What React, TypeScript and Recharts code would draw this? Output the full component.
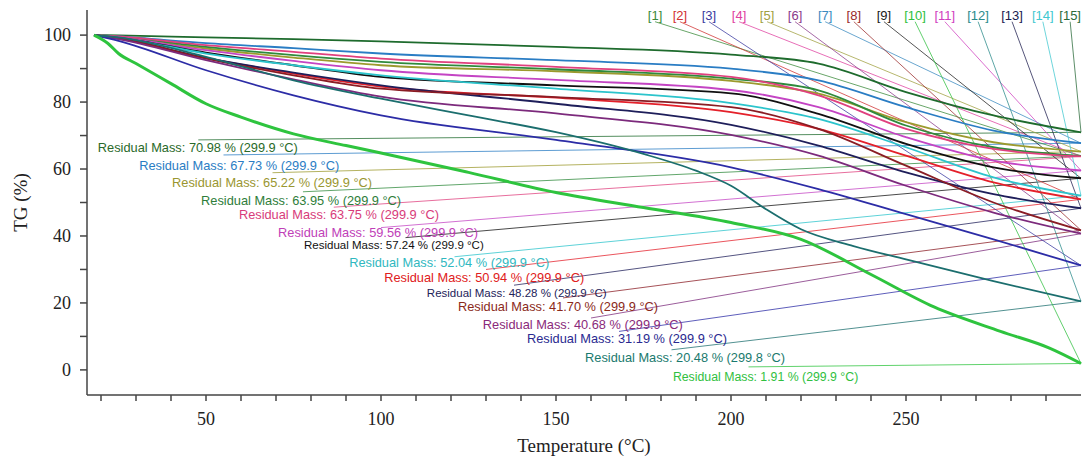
import React from "react";
import {
  LineChart,
  Line,
  XAxis,
  YAxis,
  ReferenceLine,
  ReferenceDot,
} from "recharts";

// temperature grid shared by most TG curves (°C)
const temps = [18, 25, 50, 75, 100, 150, 200, 225, 250, 275, 300];

// TG (%) of each sample, ordered by residual mass
const tgA = [100, 99.9, 99.3, 98.8, 98.1, 96.5, 94.2, 91.5, 83, 76, 70.98];
const tgB = [100, 99.6, 97.6, 96.1, 94.5, 92.5, 90, 86.5, 78.5, 71.5, 67.73];
const tgC = [100, 99.4, 96, 93.3, 91, 89.2, 86.3, 82.5, 74, 68, 65.22];
const tgD = [100, 99.5, 96.5, 94, 92, 89.8, 87, 83.5, 73, 66.5, 63.95];
const tgE = [100, 99.6, 97, 95, 93, 90.5, 87.5, 82, 72, 66, 63.75];
const tgF = [100, 99.3, 95.5, 92.3, 89.5, 86.6, 83.6, 78.5, 69.5, 62.5, 59.56];
const tgG = [100, 99.2, 94.8, 91, 87.5, 85, 82.6, 76.5, 67.5, 60.5, 57.24];
const tgH = [100, 99.2, 94.5, 91, 88, 84, 79.7, 75, 66.5, 57.5, 52.04];
const tgI = [100, 99, 93.2, 88.5, 84.6, 81.3, 77, 72, 64, 56, 50.94];
const tgJ = [100, 99, 93.2, 88.8, 85, 79.5, 73.2, 67, 59, 52.5, 48.28];
const tgK = [100, 99, 93, 88, 84, 81.5, 78.5, 72, 61, 50, 41.7];
const tgL = [100, 98.8, 92.5, 86.8, 81.6, 76.6, 70.2, 64, 55, 47, 40.68];
const tgM = [100, 98.3, 89.5, 82, 76, 68.7, 60.5, 54, 46.5, 39, 31.19];

// teal curve has a sharper step, so it gets its own grid
const tempsN = [18, 25, 50, 75, 100, 125, 150, 175, 190, 200, 210, 220, 235, 250, 275, 300];
const tgN = [100, 99.3, 93.5, 86.5, 81, 76, 71, 64.5, 59.5, 55, 48, 42, 37, 33, 26.5, 20.48];

// fast-decomposing sample
const tempsO = [18, 22, 25, 30, 40, 50, 60, 75, 90, 100, 125, 150, 175, 200, 220, 240, 258, 277, 291, 300];
const tgO = [100, 97.5, 94.5, 91.5, 85.5, 79.5, 75.5, 70.5, 67, 64.8, 59, 53, 48.5, 44, 39, 28.5, 18.8, 11.5, 6.5, 1.91];

const residualMass = [70.98, 67.73, 65.22, 63.95, 63.75, 59.56, 57.24, 52.04, 50.94, 48.28, 41.7, 40.68, 31.19, 20.48, 1.91];
const residualTemp = ["299.9", "299.9", "299.9", "299.9", "299.9", "299.9", "299.9", "299.9", "299.9", "299.9", "299.9", "299.9", "299.9", "299.8", "299.9"];

// sample number [n] -> curve index
const legendCurve = [3, 8, 12, 4, 2, 11, 1, 10, 6, 14, 5, 13, 9, 7, 0];

const xTicks = [20, 30, 40, 50, 60, 70, 80, 90, 100, 110, 120, 130, 140, 150, 160, 170, 180, 190, 200, 210, 220, 230, 240, 250, 260, 270, 280, 290];
const yTicks = [0, 10, 20, 30, 40, 50, 60, 70, 80, 90, 100];

// ---- styling / layout ----
const colors = [
  "#1e6b2d", "#2a7dc4", "#9c9a2e", "#2f8a3c", "#e0407e", "#c444c4", "#111111",
  "#2cc4cc", "#e4202a", "#1e1e5a", "#8a1c24", "#7c2a7c", "#2c2ca6", "#1b6e6e", "#2ec43e",
];
const labelColors = [
  "#2a6a2a", "#2a7dc4", "#9a9630", "#2e7d3a", "#d83c7a", "#c040b8", "#111111",
  "#30b8c0", "#e02020", "#23235a", "#8b2a1a", "#8a2a7a", "#2a2a90", "#1a7a6e", "#30c040",
];
const legendColors = [
  "#3a8a3a", "#d03030", "#3a3aa0", "#e040a0", "#a0a040", "#8a3a8a", "#3a8ac0",
  "#9a2a2a", "#202020", "#30c040", "#d040c0", "#2a8a8a", "#202050", "#40c8d0", "#2a6a3a",
];
const legendT = [178.3, 185.4, 193.7, 202.3, 210.3, 218.3, 226.9, 235.1, 243.7, 252.6, 261.1, 270.6, 280.3, 289.1, 296.9];

// label anchor (left edge T, centre TG) and leader-line start, in data units
const labelPos = [
  [19.1, 66.3], [30.9, 61.2], [40.3, 56.1], [48.6, 50.7], [59.4, 46.3], [70.6, 40.9], [78, 37.3],
  [90.9, 32.2], [100.9, 27.5], [113.1, 23], [122, 18.8], [129.1, 13.7], [141.7, 9.3], [158.3, 3.6], [183.4, -2.1],
];
const leaderStart = [
  [47.8, 68.7], [55, 64.2], [69, 58.9], [77.7, 53.2], [86.5, 48.6], [100, 42.5], [107, 39.5],
  [121, 33.8], [130, 30], [138, 25.3], [152, 21.5], [160, 15.5], [168, 11.5], [183, 6], [205, 0.9],
];
const labelSize = [12.8, 12.8, 12.8, 12.8, 12.8, 12.8, 11.5, 12.8, 12.8, 11.5, 12.8, 12.8, 12.8, 12.8, 12.3];

const series = [
  { t: temps, v: tgA }, { t: temps, v: tgB }, { t: temps, v: tgC }, { t: temps, v: tgD },
  { t: temps, v: tgE }, { t: temps, v: tgF }, { t: temps, v: tgG }, { t: temps, v: tgH },
  { t: temps, v: tgI }, { t: temps, v: tgJ }, { t: temps, v: tgK }, { t: temps, v: tgL },
  { t: temps, v: tgM }, { t: tempsN, v: tgN }, { t: tempsO, v: tgO },
].map((s) => s.t.map((t, i) => ({ t, m: s.v[i] })));

const SANS = "'Liberation Sans', Arial, sans-serif";
const SERIF = "'Liberation Serif', 'Times New Roman', serif";

const textShape = (txt: string, color: string, size: number, anchor: string) => (p: any) => (
  <text
    x={p.cx}
    y={p.cy}
    fill={color}
    fontSize={size}
    fontFamily={SANS}
    textAnchor={anchor}
    dominantBaseline="central"
  >
    {txt}
  </text>
);

const App = () => {
  return (
    <div style={{ position: "absolute", left: 0, top: 0, background: "#fff" }}>
      <LineChart width={1082} height={460} margin={{ top: 10, right: 1, bottom: 0, left: 0 }}>
        <XAxis
          type="number"
          dataKey="t"
          domain={[16, 300]}
          ticks={xTicks}
          interval={0}
          height={65}
          tickSize={6}
          tickMargin={11}
          tickFormatter={(v) => (v % 50 === 0 ? String(v) : "")}
          stroke="#444"
          strokeWidth={1.5}
          tick={{ fill: "#222", fontSize: 18, fontFamily: SERIF }}
          label={{
            content: (p: any) => (
              <text
                x={p.viewBox.x + p.viewBox.width / 2}
                y={p.viewBox.y + 57}
                textAnchor="middle"
                fontSize={19}
                fontFamily={SERIF}
                fill="#222"
              >
                Temperature (°C)
              </text>
            ),
          }}
        />
        <YAxis
          type="number"
          domain={[-7.5, 107.5]}
          ticks={yTicks}
          interval={0}
          width={87}
          tickSize={7}
          tickMargin={9}
          tickFormatter={(v) => (v % 20 === 0 ? String(v) : "")}
          stroke="#444"
          strokeWidth={1.5}
          tick={{ fill: "#222", fontSize: 18, fontFamily: SERIF }}
          label={{
            content: (p: any) => {
              const cx = p.viewBox.x + 20;
              const cy = p.viewBox.y + p.viewBox.height / 2;
              return (
                <text
                  x={cx}
                  y={cy}
                  transform={`rotate(-90, ${cx}, ${cy})`}
                  textAnchor="middle"
                  dominantBaseline="central"
                  fontSize={19}
                  fontFamily={SERIF}
                  fill="#222"
                >
                  TG (%)
                </text>
              );
            },
          }}
        />

        {/* leader lines from residual-mass labels to curve ends */}
        {residualMass.map((r, i) => (
          <ReferenceLine
            key={`rl${i}`}
            segment={[
              { x: leaderStart[i][0], y: leaderStart[i][1] },
              { x: 300, y: r },
            ]}
            stroke={colors[i]}
            strokeWidth={0.9}
            strokeOpacity={0.85}
          />
        ))}

        {/* leader lines from sample numbers */}
        {legendCurve.map((c, n) => (
          <ReferenceLine
            key={`ll${n}`}
            segment={[
              { x: legendT[n], y: 104 },
              { x: 300, y: residualMass[c] },
            ]}
            stroke={legendColors[n]}
            strokeWidth={0.9}
            strokeOpacity={0.85}
          />
        ))}

        {series.map((d, i) => (
          <Line
            key={`s${i}`}
            data={d}
            dataKey="m"
            type="monotone"
            stroke={colors[i]}
            strokeWidth={i === 14 ? 3 : 1.8}
            dot={false}
            isAnimationActive={false}
          />
        ))}

        {residualMass.map((r, i) => (
          <ReferenceDot
            key={`lb${i}`}
            x={labelPos[i][0]}
            y={labelPos[i][1]}
            r={1}
            shape={textShape(
              `Residual Mass: ${r.toFixed(2)} % (${residualTemp[i]} °C)`,
              labelColors[i],
              labelSize[i],
              "start"
            )}
          />
        ))}

        {legendCurve.map((c, n) => (
          <ReferenceDot
            key={`lg${n}`}
            x={legendT[n]}
            y={106}
            r={1}
            shape={textShape(`[${n + 1}]`, legendColors[n], 13, "middle")}
          />
        ))}
      </LineChart>
    </div>
  );
};

export default App;
